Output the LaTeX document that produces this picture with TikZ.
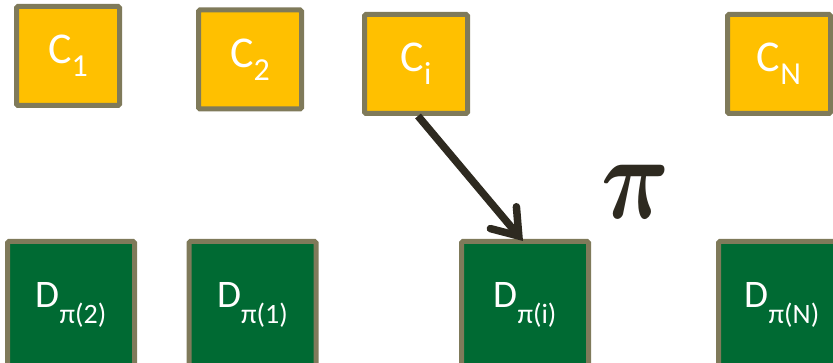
\documentclass[tikz,border=0pt]{standalone}
\usepackage{fontspec}
\setmainfont{Carlito}
\usepackage{amsmath,bm}
\usetikzlibrary{arrows.meta}
\definecolor{cfill}{RGB}{255,192,0}
\definecolor{dfill}{RGB}{0,106,51}
\definecolor{bord}{RGB}{127,122,90}
\definecolor{ink}{RGB}{46,42,32}
\newcommand{\csub}[2]{#1\raisebox{-13pt}{\fontsize{32}{32}\selectfont #2}}
\newcommand{\dsub}[2]{#1\raisebox{-16pt}{\fontsize{28}{28}\selectfont #2}}
\begin{document}
\begin{tikzpicture}[x=1pt,y=-1pt,
  cbox/.style={draw=bord,line width=5pt,fill=cfill,rounded corners=1.5pt,
    minimum width=103pt,minimum height=99pt,inner sep=0pt,text=white,
    font=\fontsize{44}{44}\selectfont},
  dbox/.style={draw=bord,line width=5pt,fill=dfill,rounded corners=1.5pt,
    minimum width=127pt,minimum height=127pt,inner sep=0pt,text=white,
    font=\fontsize{39}{39}\selectfont},
  arr/.style={draw=ink,line width=7.5pt,-{Straight Barb[length=24pt,width=34pt,line cap=round]}}]
\useasboundingbox (0,0) rectangle (833,363);
\begin{scope}
\clip (0,0) rectangle (833,363);
\node[cbox] (c1) at (68,56) {\csub{C}{1}};
\node[cbox] (c2) at (250,59.5) {\csub{C}{2}};
\node[cbox] (ci) at (416,64) {\csub{C}{i}};
\node[cbox] (cn) at (779,64) {\csub{C}{N}};
\node[dbox] (d2) at (71,305) {\dsub{D}{π(2)}};
\node[dbox] (d1) at (252.5,305) {\dsub{D}{π(1)}};
\node[dbox] (di) at (525,305) {\dsub{D}{π(i)}};
\node[dbox] (dn) at (782,305) {\dsub{D}{π(N)}};
\draw[arr] ([xshift=2pt]ci.south) -- ([xshift=-2pt,yshift=-2pt]di.north);
\node[text=ink,inner sep=0pt] (pi) at (636,192) {\scalebox{9.5}[12]{$\bm{\pi}$}};
\end{scope}
\end{tikzpicture}
\end{document}
